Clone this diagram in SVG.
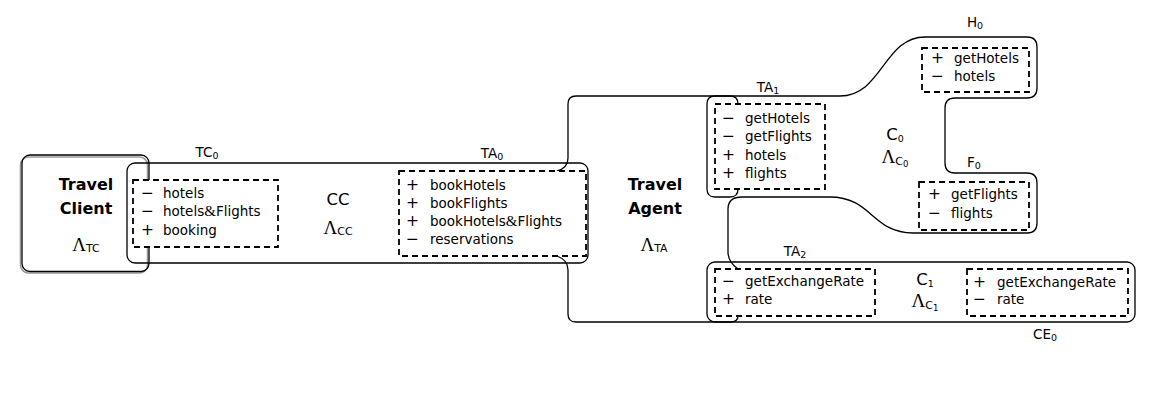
<svg xmlns="http://www.w3.org/2000/svg" width="1150" height="413" viewBox="0 0 1150 413">
<style>
.ln{fill:none;stroke:#000;stroke-width:1.3;stroke-linejoin:round}
.sh{fill:none;stroke:#9a9a9a;stroke-width:1.6}
.db{fill:#fff;stroke:#000;stroke-width:1.8;stroke-dasharray:6,4}
text{font-family:"DejaVu Sans",sans-serif;fill:#000}
.it{font-size:13.5px}
.sg{font-size:15.5px}
.amp{font-family:"Liberation Serif",serif;font-size:15px}
.pl{font-size:13.5px;text-anchor:middle}
.sub{font-size:9.5px}
.bd{font-size:16px;font-weight:bold;text-anchor:middle}
.nm{font-size:16.5px;text-anchor:middle}
.lam{text-anchor:middle}
.L{font-family:"Liberation Serif",serif;font-size:19px}
.ls{font-size:11px}
.lss{font-size:8.5px}
</style>
<rect width="1150" height="413" fill="#fff"/>

<g id="travel-client">
  <rect class="sh" x="20.5" y="157" width="127" height="116" rx="8"/>
  <rect class="ln" x="22" y="155" width="127" height="116.5" rx="8"/>
</g>

<g id="cc">
  <rect class="ln" x="127" y="163" width="461" height="100" rx="8"/>
</g>

<g id="c0">
  <path class="ln" d="M738,189 Q738,197 730,197 L715,197 Q707,197 707,189 L707,104 Q707,96 715,96 L840,96 C882,96 884,37 925,37 L1027,37 Q1037,37 1037,47 L1037,88 Q1037,98 1027,98 L955,98 Q945,98 945,108 L945,163 Q945,173 955,173 L1027,173 Q1037,173 1037,183 L1037,223 Q1037,233 1027,233 L913,233 C872,233 872,197 830,197 L742,197"/>
</g>

<g id="c1">
  <rect class="ln" x="707" y="262" width="428" height="60" rx="8"/>
</g>

<g id="connectors">
  <path class="ln" d="M557,171 Q568,168 568,158 L568,104 Q568,96 576,96 L730,96 Q738,96 738,104"/>
  <path class="ln" d="M742,197 Q728,197 728,209 L728,252 Q728,262 738,269"/>
  <path class="ln" d="M557,256 Q568,260 568,270 L568,314 Q568,322 576,322 L730,322 Q738,322 738,316"/>
</g>

<g id="port-tc0">
  <rect class="db" x="133" y="180" width="145" height="67"/>
  <text class="it" x="141" y="198"><tspan class="sg">−</tspan><tspan x="163">hotels</tspan></text>
  <text class="it" x="141" y="216"><tspan class="sg">−</tspan><tspan x="163">hotels</tspan><tspan class="amp">&amp;</tspan>Flights</text>
  <text class="it" x="141" y="235"><tspan class="sg">+</tspan><tspan x="163">booking</tspan></text>
  <text class="pl" x="207" y="157">TC<tspan class="sub" dy="2">0</tspan></text>
</g>

<g id="port-ta0">
  <rect class="db" x="399" y="171" width="187" height="85"/>
  <text class="it" x="406" y="190"><tspan class="sg">+</tspan><tspan x="430">bookHotels</tspan></text>
  <text class="it" x="406" y="208"><tspan class="sg">+</tspan><tspan x="430">bookFlights</tspan></text>
  <text class="it" x="406" y="226"><tspan class="sg">+</tspan><tspan x="430">bookHotels</tspan><tspan class="amp">&amp;</tspan>Flights</text>
  <text class="it" x="406" y="244"><tspan class="sg">−</tspan><tspan x="430">reservations</tspan></text>
  <text class="pl" x="492" y="158">TA<tspan class="sub" dy="2">0</tspan></text>
</g>

<g id="port-ta1">
  <rect class="db" x="715" y="104" width="110" height="85"/>
  <text class="it" x="722" y="123"><tspan class="sg">−</tspan><tspan x="745">getHotels</tspan></text>
  <text class="it" x="722" y="141"><tspan class="sg">−</tspan><tspan x="745">getFlights</tspan></text>
  <text class="it" x="722" y="160"><tspan class="sg">+</tspan><tspan x="745">hotels</tspan></text>
  <text class="it" x="722" y="178"><tspan class="sg">+</tspan><tspan x="745">flights</tspan></text>
  <text class="pl" x="768" y="92">TA<tspan class="sub" dy="2">1</tspan></text>
</g>

<g id="port-h0">
  <rect class="db" x="922" y="48" width="107" height="44"/>
  <text class="it" x="931" y="63"><tspan class="sg">+</tspan><tspan x="954">getHotels</tspan></text>
  <text class="it" x="931" y="81"><tspan class="sg">−</tspan><tspan x="954">hotels</tspan></text>
  <text class="pl" x="975" y="27">H<tspan class="sub" dy="2">0</tspan></text>
</g>

<g id="port-f0">
  <rect class="db" x="919" y="182" width="110" height="48"/>
  <text class="it" x="928" y="199"><tspan class="sg">+</tspan><tspan x="951">getFlights</tspan></text>
  <text class="it" x="928" y="218"><tspan class="sg">−</tspan><tspan x="951">flights</tspan></text>
  <text class="pl" x="974" y="167">F<tspan class="sub" dy="2">0</tspan></text>
</g>

<g id="port-ta2">
  <rect class="db" x="715" y="269" width="160" height="47"/>
  <text class="it" x="722" y="286"><tspan class="sg">−</tspan><tspan x="745">getExchangeRate</tspan></text>
  <text class="it" x="722" y="304"><tspan class="sg">+</tspan><tspan x="745">rate</tspan></text>
  <text class="pl" x="795" y="256">TA<tspan class="sub" dy="2">2</tspan></text>
</g>

<g id="port-ce0">
  <rect class="db" x="967" y="269" width="161" height="47"/>
  <text class="it" x="973" y="287"><tspan class="sg">+</tspan><tspan x="997">getExchangeRate</tspan></text>
  <text class="it" x="973" y="304"><tspan class="sg">−</tspan><tspan x="997">rate</tspan></text>
  <text class="pl" x="1045" y="339">CE<tspan class="sub" dy="2">0</tspan></text>
</g>

<g id="labels">
  <text class="bd" x="86" y="190">Travel</text>
  <text class="bd" x="86" y="214">Client</text>
  <text class="lam" x="86" y="251"><tspan class="L">Λ</tspan><tspan class="ls" dy="1">TC</tspan></text>

  <text class="nm" x="338" y="205">CC</text>
  <text class="lam" x="338" y="234"><tspan class="L">Λ</tspan><tspan class="ls" dy="1">CC</tspan></text>

  <text class="bd" x="655" y="190">Travel</text>
  <text class="bd" x="655" y="214">Agent</text>
  <text class="lam" x="654" y="251"><tspan class="L">Λ</tspan><tspan class="ls" dy="1">TA</tspan></text>

  <text class="nm" x="895" y="140">C<tspan class="sub" dy="2">0</tspan></text>
  <text class="lam" x="895" y="163"><tspan class="L">Λ</tspan><tspan class="ls" dy="2">C</tspan><tspan class="lss" dy="2">0</tspan></text>

  <text class="nm" x="925" y="285">C<tspan class="sub" dy="2">1</tspan></text>
  <text class="lam" x="925" y="307"><tspan class="L">Λ</tspan><tspan class="ls" dy="2">C</tspan><tspan class="lss" dy="2">1</tspan></text>
</g>
</svg>
